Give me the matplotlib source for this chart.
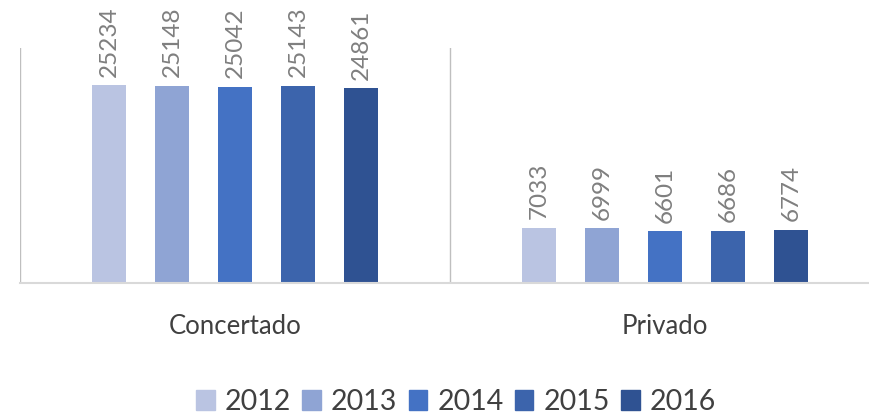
import numpy as np
import matplotlib.pyplot as plt
from matplotlib.patches import Patch

categories = ["Concertado", "Privado"]
years = ["2012", "2013", "2014", "2015", "2016"]
values = {
    "2012": [25234, 7033],
    "2013": [25148, 6999],
    "2014": [25042, 6601],
    "2015": [25143, 6686],
    "2016": [24861, 6774],
}
colors = ["#bac4e2", "#8fa4d4", "#4472c4", "#3c64ac", "#2f5292"]

plt.rcParams["font.family"] = ["Lato", "DejaVu Sans"]

fig = plt.figure(figsize=(8.7, 4.17), dpi=100)
ax = fig.add_axes([20 / 870, 134 / 417, 860 / 870, 235 / 417])

x = np.arange(len(categories))
step = 0.1465
width = 0.078
for i, (yr, col) in enumerate(zip(years, colors)):
    pos = x + (i - 2) * step
    bars = ax.bar(pos, values[yr], width=width, color=col, zorder=2)
    for b, v in zip(bars, values[yr]):
        ax.text(b.get_x() + b.get_width() / 2, v + 1100, str(v), rotation=90,
                ha="center", va="bottom", fontsize=17.5, color="#7f7f7f")

ax.set_xlim(-0.5, 1.5)
ax.set_ylim(0, 30000)
ax.set_yticks([])
ax.set_xticks([])
for s in ["top", "right", "left"]:
    ax.spines[s].set_visible(False)
ax.spines["bottom"].set_color("#d9d9d9")
ax.spines["bottom"].set_linewidth(1.5)
for xv in [-0.5, 0.5, 1.5]:
    ax.axvline(xv, color="#bfbfbf", lw=1, zorder=1)

for xi, cat in zip(x, categories):
    ax.text(xi, -5500, cat, ha="center", va="center", fontsize=18.5, color="#404040")

handles = [Patch(color=c, label=y) for c, y in zip(colors, years)]
fig.legend(handles=handles, loc="center", bbox_to_anchor=(456 / 870, 1 - 402 / 417),
           ncol=5, frameon=False, fontsize=20.5, handlelength=0.65, handleheight=0.65,
           handletextpad=0.35, columnspacing=0.4, labelcolor="#404040")

fig.savefig("out.png", dpi=100)
